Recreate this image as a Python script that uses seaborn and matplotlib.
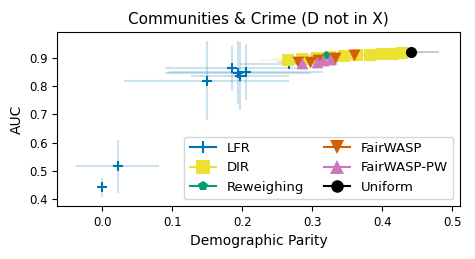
import seaborn as sns
import matplotlib.pyplot as plt
from matplotlib.lines import Line2D

# Dados (DP, AUC, erro DP, erro AUC)
lfr_dp = [0.0, 0.022, 0.149, 0.186, 0.194, 0.197, 0.206, 0.267]
lfr_auc = [0.442, 0.516, 0.818, 0.862, 0.847, 0.836, 0.849, 0.878]
lfr_dp_err = [0.004, 0.059, 0.118, 0.097, 0.105, 0.07, 0.11, 0.07]
lfr_auc_err = [0.033, 0.093, 0.14, 0.08, 0.11, 0.12, 0.1, 0.01]

dir_dp = [0.266, 0.286, 0.307, 0.325, 0.345, 0.364, 0.383, 0.40, 0.416, 0.428]
dir_auc = [0.89, 0.895, 0.898, 0.902, 0.905, 0.908, 0.91, 0.912, 0.914, 0.916]
dir_dp_err = [0.04, 0.04, 0.03, 0.03, 0.03, 0.03, 0.03, 0.03, 0.03, 0.03]
dir_auc_err = [0.005] * 10

rew_dp = [0.32]
rew_auc = [0.91]
rew_dp_err = [0.03]
rew_auc_err = [0.005]

fw_dp = [0.28, 0.297, 0.309, 0.333, 0.36]
fw_auc = [0.885, 0.884, 0.893, 0.90, 0.91]
fw_dp_err = [0.03, 0.03, 0.03, 0.03, 0.03]
fw_auc_err = [0.005] * 5

fwpw_dp = [0.286, 0.307, 0.316, 0.326]
fwpw_auc = [0.882, 0.886, 0.89, 0.895]
fwpw_dp_err = [0.03, 0.03, 0.03, 0.03]
fwpw_auc_err = [0.005] * 4

uni_dp = [0.441]
uni_auc = [0.919]
uni_dp_err = [0.04]
uni_auc_err = [0.004]

cores = sns.color_palette("colorblind")

metodos = [
    ("LFR", lfr_dp, lfr_auc, lfr_dp_err, lfr_auc_err, cores[0], "+", 7),
    ("DIR", dir_dp, dir_auc, dir_dp_err, dir_auc_err, cores[8], "s", 8.5),
    ("Reweighing", rew_dp, rew_auc, rew_dp_err, rew_auc_err, cores[2], "p", 6.5),
    ("FairWASP", fw_dp, fw_auc, fw_dp_err, fw_auc_err, cores[3], "v", 8.5),
    ("FairWASP-PW", fwpw_dp, fwpw_auc, fwpw_dp_err, fwpw_auc_err, cores[4], "^", 8.5),
    ("Uniform", uni_dp, uni_auc, uni_dp_err, uni_auc_err, "black", "o", 8),
]

fig, ax = plt.subplots(figsize=(4.75, 2.59), dpi=100)

handles = []
for nome, x, y, xe, ye, cor, mk, ms in metodos:
    ax.errorbar(x, y, xerr=xe, yerr=ye, fmt="none", ecolor=cor, alpha=0.2, elinewidth=1.5)
    sns.scatterplot(x=x, y=y, ax=ax, color=cor, marker=mk, s=ms ** 2,
                    linewidth=1.5 if mk == "+" else 0, edgecolor=cor, zorder=3)
    handles.append(Line2D([0], [0], color=cor, marker=mk, markersize=ms + 1, lw=1.5,
                          markeredgewidth=1.5 if mk == "+" else 0))

ax.set_xlim(-0.064, 0.511)
ax.set_ylim(0.376, 0.99)
ax.set_xticks([0.0, 0.1, 0.2, 0.3, 0.4, 0.5])
ax.set_yticks([0.4, 0.5, 0.6, 0.7, 0.8, 0.9])
ax.tick_params(labelsize=8.5)
ax.set_title("Communities & Crime (D not in X)", fontsize=11)
ax.set_xlabel("Demographic Parity", fontsize=10)
ax.set_ylabel("AUC", fontsize=10)
ax.legend(handles, [m[0] for m in metodos], ncol=2, loc="lower right", fontsize=9.5,
          handlelength=2.0, columnspacing=1.5)

plt.subplots_adjust(left=0.121, right=0.968, top=0.876, bottom=0.205)
plt.savefig("out.png", dpi=100)
